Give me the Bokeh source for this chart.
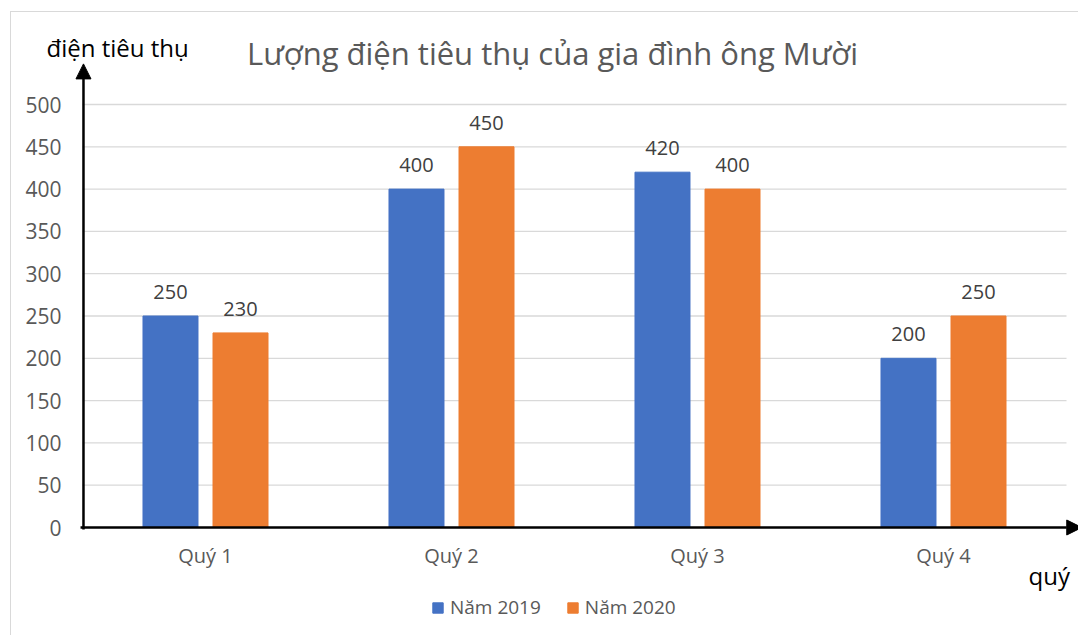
import numpy as np
from bokeh.plotting import figure
from bokeh.models import (Range1d, FixedTicker, Arrow, NormalHead,
                          Label, Legend, LegendItem, ColumnDataSource)
from bokeh.core.properties import value
from bokeh.embed import file_html
from bokeh.resources import INLINE

# ---- data ----
categories = ["Quý 1", "Quý 2", "Quý 3", "Quý 4"]
series_names = ["Năm 2019", "Năm 2020"]
values_2019 = [250, 400, 420, 200]
values_2020 = [230, 450, 400, 250]
y_ticks = [0, 50, 100, 150, 200, 250, 300, 350, 400, 450, 500]
title_text = "Lượng điện tiêu thụ của gia đình ông Mười"
y_title = "điện tiêu thụ"
x_title = "quý"

FONT = "Open Sans"
BLUE = "#4472C4"
ORANGE = "#ED7D31"
GRID = "#D9D9D9"
TXT = "#595959"

PX = 423 / 500     # pixels per value unit
CW = 246           # pixels per category

xc = np.arange(len(categories)) + 0.5
off = 0.1423
bw = 0.2236

p = figure(width=1068, height=624, output_backend="svg", toolbar_location=None,
           x_range=Range1d((44 - 82) / CW, (1079 - 82) / CW),
           y_range=Range1d((527 - 625) / PX, (527 - 12) / PX),
           min_border_left=33, min_border_right=0, min_border_top=0,
           min_border_bottom=11)
p.margin = (11, 0, 0, 10)
p.styles = {"border-left": "1px solid #D9D9D9", "border-top": "1px solid #D9D9D9"}
p.outline_line_color = None
p.xgrid.visible = False
p.ygrid.visible = False
p.background_fill_color = "white"
p.border_fill_color = "white"

# axes (labels only)
p.yaxis.ticker = FixedTicker(ticks=y_ticks)
p.yaxis.axis_line_color = None
p.yaxis.major_tick_line_color = None
p.yaxis.minor_tick_line_color = None
p.yaxis.major_tick_out = 0
p.yaxis.major_label_standoff = -17
p.yaxis.major_label_text_font = FONT
p.yaxis.major_label_text_font_size = "21px"
p.yaxis.major_label_text_color = TXT

p.xaxis.ticker = FixedTicker(ticks=list(xc))
p.xaxis.major_label_overrides = {float(x): c for x, c in zip(xc, categories)}
p.xaxis.axis_line_color = None
p.xaxis.major_tick_line_color = None
p.xaxis.minor_tick_line_color = None
p.xaxis.major_tick_out = 0
p.xaxis.major_label_standoff = -84
p.xaxis.major_label_text_font = FONT
p.xaxis.major_label_text_font_size = "20px"
p.xaxis.major_label_text_color = TXT

# gridlines
grid_y = [t for t in y_ticks if t > 0]
p.segment(x0=[0] * len(grid_y), x1=[len(categories)] * len(grid_y), y0=grid_y, y1=grid_y,
          line_color=GRID, line_width=1.3)

# bars
src = ColumnDataSource(dict(x19=xc - off, x20=xc + off, v19=values_2019, v20=values_2020,
                            l19=[str(v) for v in values_2019], l20=[str(v) for v in values_2020]))
r1 = p.vbar(x="x19", top="v19", width=bw, source=src, fill_color=BLUE, line_color=BLUE)
r2 = p.vbar(x="x20", top="v20", width=bw, source=src, fill_color=ORANGE, line_color=ORANGE)

for xk, vk, lk in (("x19", "v19", "l19"), ("x20", "v20", "l20")):
    p.text(x=xk, y=vk, text=lk, source=src, text_align="center", text_baseline="alphabetic",
           y_offset=-24, text_font=value(FONT), text_font_size="20px", text_color="#404040")

# axis arrows
p.add_layout(Arrow(end=NormalHead(size=15, fill_color="black", line_color="black"),
                   x_start=0.004, y_start=-2.3, x_end=0.004, y_end=548,
                   line_color="black", line_width=2.5))
p.add_layout(Arrow(end=NormalHead(size=15, fill_color="black", line_color="black"),
                   x_start=-0.008, y_start=0, x_end=4.062, y_end=0,
                   line_color="black", line_width=2.5))

# texts
p.add_layout(Label(x=(552 - 82) / CW, y=(527 - 52) / PX, text=title_text, text_align="center",
                   text_baseline="alphabetic", text_font=FONT, text_font_size="31px",
                   text_color=TXT))
p.add_layout(Label(x=(46 - 82) / CW, y=(527 - 47) / PX, text=y_title, text_align="left",
                   text_baseline="alphabetic", text_font=FONT, text_font_size="24px",
                   text_color="black"))
p.add_layout(Label(x=(1028 - 82) / CW, y=(527 - 575) / PX, text=x_title, text_align="left",
                   text_baseline="alphabetic", text_font=FONT, text_font_size="24px",
                   text_color="black"))

legend = Legend(items=[LegendItem(label=series_names[0], renderers=[r1]),
                       LegendItem(label=series_names[1], renderers=[r2])],
                orientation="horizontal", location=(387, 5),
                glyph_width=13, glyph_height=13, label_standoff=6, spacing=25,
                padding=0, margin=0, border_line_color=None, background_fill_alpha=0,
                label_text_font=FONT, label_text_font_size="19px", label_text_color=TXT,
                label_height=20)
p.add_layout(legend)

open("out.html", "w").write(file_html(p, INLINE))
